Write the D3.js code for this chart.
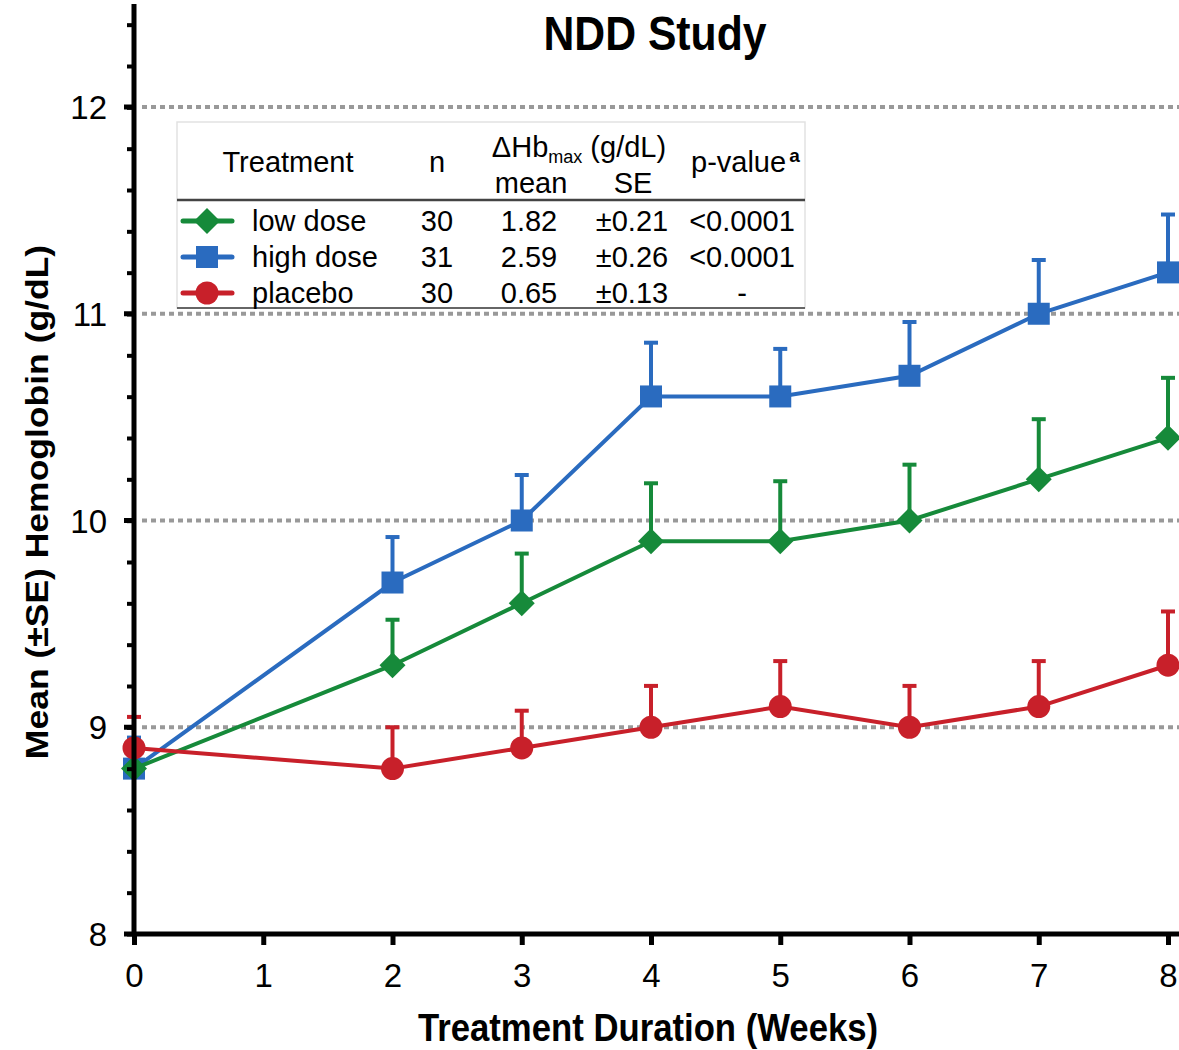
<!DOCTYPE html>
<html>
<head>
<meta charset="utf-8">
<script src="https://cdn.jsdelivr.net/npm/d3@7"></script>
<style>
  body { margin: 0; background: #fff; }
  svg { font-family: "Liberation Sans", Arial, sans-serif; }
</style>
</head>
<body>
<svg width="1179" height="1050"></svg>
<script>
// weeks on x axis
const weeks = [0, 2, 3, 4, 5, 6, 7, 8];
const xTicks = [0, 1, 2, 3, 4, 5, 6, 7, 8];
const yTicks = [8, 9, 10, 11, 12];

// mean Hb per group, and top of the +SE bar
const lowMean  = [8.8, 9.3, 9.6, 9.9, 9.9, 10.0, 10.2, 10.4];
const lowTop   = [8.8, 9.52, 9.84, 10.18, 10.19, 10.27, 10.49, 10.69];
const highMean = [8.8, 9.7, 10.0, 10.6, 10.6, 10.7, 11.0, 11.2];
const highTop  = [8.95, 9.92, 10.22, 10.86, 10.83, 10.96, 11.26, 11.48];
const placMean = [8.9, 8.8, 8.9, 9.0, 9.1, 9.0, 9.1, 9.3];
const placTop  = [9.05, 9.0, 9.08, 9.2, 9.32, 9.2, 9.32, 9.56];

// legend table rows
const tblNames = ['low dose', 'high dose', 'placebo'];
const tblN     = ['30', '31', '30'];
const tblMean  = ['1.82', '2.59', '0.65'];
const tblSE    = ['±0.21', '±0.26', '±0.13'];
const tblP     = ['<0.0001', '<0.0001', '-'];

const series = [
  {name: 'high dose', mean: highMean, top: highTop, color: '#2a6bbf', shape: 'square'},
  {name: 'low dose', mean: lowMean, top: lowTop, color: '#168a3a', shape: 'diamond'},
  {name: 'placebo', mean: placMean, top: placTop, color: '#c8202a', shape: 'circle'}
];
const colorOf = {'low dose': '#168a3a', 'high dose': '#2a6bbf', 'placebo': '#c8202a'};
const shapeOf = {'low dose': 'diamond', 'high dose': 'square', 'placebo': 'circle'};

const svg = d3.select('svg');
const x = d3.scaleLinear().domain([0, 8]).range([134, 1168]);
const y = d3.scaleLinear().domain([8, 12]).range([934, 107]);
const squeeze = 0.89; // the source art is a bit narrower than tall

// dotted gridlines
svg.append('g')
  .selectAll('line')
  .data(yTicks.slice(1))
  .enter().append('line')
    .attr('x1', 142).attr('x2', 1179)
    .attr('y1', d => y(d)).attr('y2', d => y(d))
    .attr('stroke', '#999')
    .attr('stroke-width', 4)
    .attr('stroke-dasharray', '5,4');

function drawMarker(g, shape, color) {
  if (shape === 'square') {
    g.append('rect').attr('x', -11).attr('y', -11).attr('width', 22).attr('height', 22).attr('fill', color);
  } else if (shape === 'diamond') {
    g.append('path').attr('d', 'M0,-13L13,0L0,13L-13,0Z').attr('fill', color);
  } else {
    g.append('circle').attr('r', 11.5).attr('fill', color);
  }
}

// series: lines, error bars, markers
const line = d3.line().x(d => x(d[0])).y(d => y(d[1]));
series.forEach(s => {
  const g = svg.append('g');
  const pts = weeks.map((w, i) => [w, s.mean[i], s.top[i]]);
  g.selectAll('.err')
    .data(pts)
    .enter().append('line')
      .attr('x1', d => x(d[0])).attr('x2', d => x(d[0]))
      .attr('y1', d => y(d[1])).attr('y2', d => y(d[2]))
      .attr('stroke', s.color).attr('stroke-width', 4);
  g.selectAll('.cap')
    .data(pts)
    .enter().append('line')
      .attr('x1', d => x(d[0]) - 7).attr('x2', d => x(d[0]) + 7)
      .attr('y1', d => y(d[2])).attr('y2', d => y(d[2]))
      .attr('stroke', s.color).attr('stroke-width', 4);
  g.append('path')
    .attr('d', line(pts))
    .attr('fill', 'none')
    .attr('stroke', s.color)
    .attr('stroke-width', 4);
  pts.forEach(d => {
    const m = g.append('g').attr('transform', `translate(${x(d[0])},${y(d[1])})`);
    drawMarker(m, s.shape, s.color);
  });
});

// axes
const yAxis = d3.axisLeft(d3.scaleLinear().domain([8, 12.5]).range([934, 4]))
  .tickValues(d3.range(8, 12.41, 0.2))
  .tickSize(7).tickFormat('');
svg.append('g').attr('transform', 'translate(134,0)').call(yAxis)
  .call(g => g.selectAll('line').attr('stroke', '#000').attr('stroke-width', 4))
  .call(g => g.select('.domain').attr('stroke', '#000').attr('stroke-width', 5).attr('d', 'M0,4V936'));

svg.append('g')
  .selectAll('line')
  .data(yTicks)
  .enter().append('line')
    .attr('x1', 124).attr('x2', 134)
    .attr('y1', d => y(d)).attr('y2', d => y(d))
    .attr('stroke', '#000').attr('stroke-width', 5);

svg.append('g')
  .selectAll('text')
  .data(yTicks)
  .enter().append('text')
    .attr('x', 107).attr('y', d => y(d) + 12)
    .attr('text-anchor', 'end')
    .style('font-size', '33px')
    .text(d => d);

const xAxis = d3.axisBottom(x).tickValues(xTicks).tickSize(11).tickFormat(d => d);
svg.append('g').attr('transform', 'translate(0,934)').call(xAxis)
  .call(g => g.select('.domain').attr('stroke', '#000').attr('stroke-width', 5).attr('d', 'M132,0H1179'))
  .call(g => g.selectAll('.tick line').attr('stroke', '#000').attr('stroke-width', 5))
  .call(g => g.selectAll('.tick text').attr('fill', '#000').attr('dy', 0).attr('y', 53)
    .style('font-size', '33px').style('font-family', '"Liberation Sans", Arial, sans-serif'));

// titles
svg.append('text')
  .attr('transform', `translate(655,50) scale(${squeeze},1)`)
  .attr('text-anchor', 'middle')
  .style('font-size', '48px').style('font-weight', 'bold')
  .text('NDD Study');

svg.append('text')
  .attr('transform', `translate(648,1041) scale(${squeeze},1)`)
  .attr('text-anchor', 'middle')
  .style('font-size', '39px').style('font-weight', 'bold')
  .text('Treatment Duration (Weeks)');

svg.append('text')
  .attr('transform', `translate(48,502) scale(${squeeze},1) rotate(-90)`)
  .attr('text-anchor', 'middle')
  .style('font-size', '35.5px').style('font-weight', 'bold')
  .text('Mean (±SE) Hemoglobin (g/dL)');

// legend table
const lg = svg.append('g');
lg.append('rect')
  .attr('x', 177).attr('y', 122).attr('width', 628).attr('height', 186)
  .attr('fill', '#fff').attr('stroke', '#e2e2e2').attr('stroke-width', 1.5);
lg.append('line').attr('x1', 177).attr('x2', 805).attr('y1', 200).attr('y2', 200)
  .attr('stroke', '#444').attr('stroke-width', 2.5);
lg.append('line').attr('x1', 177).attr('x2', 805).attr('y1', 308).attr('y2', 308)
  .attr('stroke', '#666').attr('stroke-width', 2);

const fs = '29px';
lg.append('text').attr('x', 288).attr('y', 172).attr('text-anchor', 'middle').style('font-size', fs).text('Treatment');
lg.append('text').attr('x', 437).attr('y', 172).attr('text-anchor', 'middle').style('font-size', fs).text('n');
const dh = lg.append('text').attr('x', 579).attr('y', 157).attr('text-anchor', 'middle').style('font-size', fs);
dh.append('tspan').text('ΔHb');
dh.append('tspan').attr('dy', 6).style('font-size', '18px').text('max');
dh.append('tspan').attr('dy', -6).text(' (g/dL)');
lg.append('text').attr('x', 531).attr('y', 193).attr('text-anchor', 'middle').style('font-size', fs).text('mean');
lg.append('text').attr('x', 633).attr('y', 193).attr('text-anchor', 'middle').style('font-size', fs).text('SE');
const pv = lg.append('text').attr('x', 691).attr('y', 172).style('font-size', fs);
pv.append('tspan').text('p-value');
pv.append('tspan').attr('dy', -10).attr('dx', 3).style('font-size', '19px').style('font-weight', 'bold').text('a');

const rowY = d3.scalePoint().domain(tblNames).range([231, 303]);
tblNames.forEach((name, i) => {
  const yy = rowY(name);
  const c = colorOf[name];
  lg.append('line').attr('x1', 183).attr('x2', 232).attr('y1', yy - 10).attr('y2', yy - 10)
    .attr('stroke', c).attr('stroke-width', 5).attr('stroke-linecap', 'round');
  const m = lg.append('g').attr('transform', `translate(207,${yy - 10})`);
  drawMarker(m, shapeOf[name], c);
  lg.append('text').attr('x', 252).attr('y', yy).style('font-size', fs).text(name);
  lg.append('text').attr('x', 437).attr('y', yy).attr('text-anchor', 'middle').style('font-size', fs).text(tblN[i]);
  lg.append('text').attr('x', 529).attr('y', yy).attr('text-anchor', 'middle').style('font-size', fs).text(tblMean[i]);
  lg.append('text').attr('x', 632).attr('y', yy).attr('text-anchor', 'middle').style('font-size', fs).text(tblSE[i]);
  lg.append('text').attr('x', 742).attr('y', yy).attr('text-anchor', 'middle').style('font-size', fs).text(tblP[i]);
});
</script>
</body>
</html>
